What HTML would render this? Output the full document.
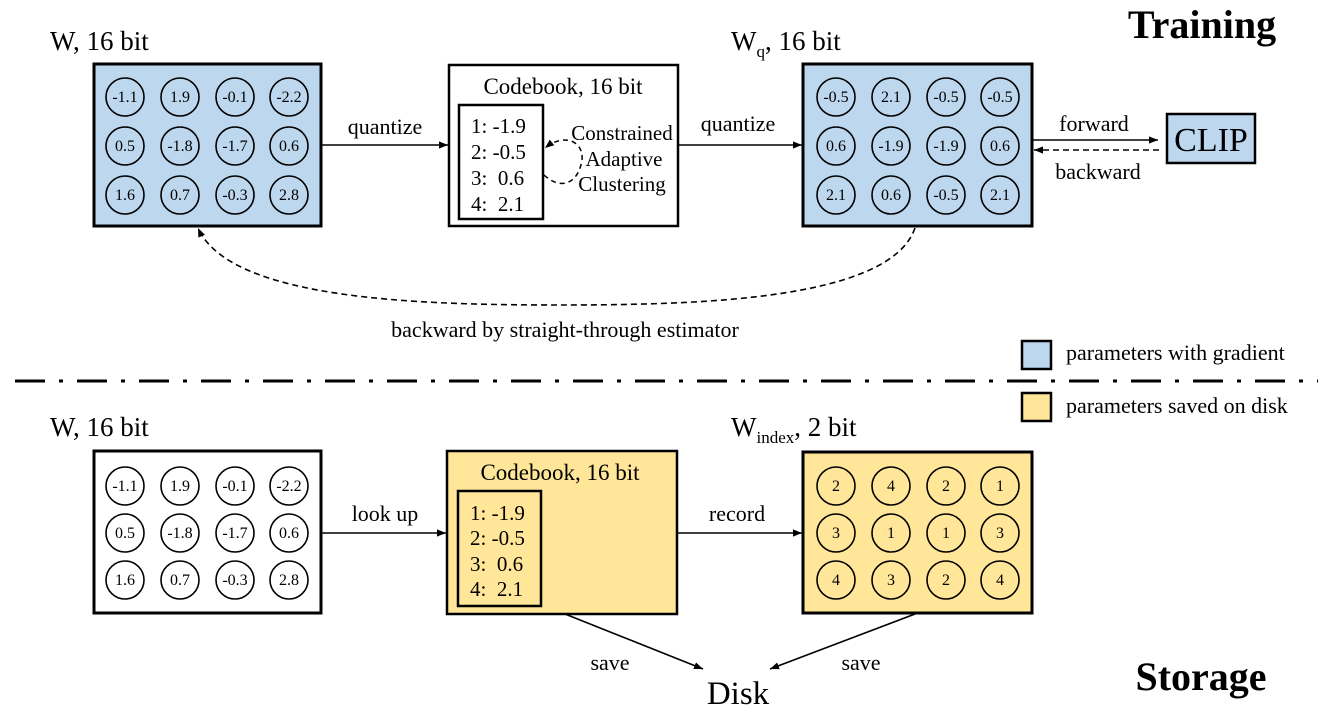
<!DOCTYPE html>
<html><head><meta charset="utf-8"><style>
html,body{margin:0;padding:0;background:#fff}
svg{display:block;font-family:"Liberation Serif",serif}
text{white-space:pre}
</style></head><body>
<svg width="1328" height="726" viewBox="0 0 1328 726" xmlns="http://www.w3.org/2000/svg" xml:space="preserve">
<defs>
<marker id="a" viewBox="0 0 10 10" refX="10" refY="5" markerWidth="9" markerHeight="9" markerUnits="userSpaceOnUse" orient="auto"><path d="M0,1 L10,5 L0,9 Z" fill="#000"/></marker>
</defs>
<text x="50" y="50" font-size="27">W, 16 bit</text>
<text x="731" y="50" font-size="27">W<tspan font-size="17" dy="7">q</tspan><tspan dy="-7">, 16 bit</tspan></text>
<text x="1202" y="38" font-size="40" font-weight="bold" text-anchor="middle">Training</text>
<text x="1201" y="690" font-size="40" font-weight="bold" text-anchor="middle">Storage</text>
<text x="50" y="436" font-size="27">W, 16 bit</text>
<text x="731" y="436" font-size="27">W<tspan font-size="17" dy="7">index</tspan><tspan dy="-7">, 2 bit</tspan></text>

<rect x="94" y="64" width="227" height="162" fill="#bdd7ee" stroke="#000" stroke-width="3"/>
<g fill="none" stroke="#000" stroke-width="1.6">
<circle cx="125" cy="97" r="19"/><circle cx="180" cy="97" r="19"/><circle cx="235" cy="97" r="19"/><circle cx="289" cy="97" r="19"/>
<circle cx="125" cy="146" r="19"/><circle cx="180" cy="146" r="19"/><circle cx="235" cy="146" r="19"/><circle cx="289" cy="146" r="19"/>
<circle cx="125" cy="195" r="19"/><circle cx="180" cy="195" r="19"/><circle cx="235" cy="195" r="19"/><circle cx="289" cy="195" r="19"/>
</g>
<g font-size="16" text-anchor="middle">
<text x="125" y="102">-1.1</text><text x="180" y="102">1.9</text><text x="235" y="102">-0.1</text><text x="289" y="102">-2.2</text>
<text x="125" y="151">0.5</text><text x="180" y="151">-1.8</text><text x="235" y="151">-1.7</text><text x="289" y="151">0.6</text>
<text x="125" y="200">1.6</text><text x="180" y="200">0.7</text><text x="235" y="200">-0.3</text><text x="289" y="200">2.8</text>
</g>

<rect x="449" y="65" width="229" height="161" fill="#fff" stroke="#000" stroke-width="2.5"/>
<text x="563" y="94" font-size="23" text-anchor="middle">Codebook, 16 bit</text>
<rect x="459" y="105" width="84" height="114" fill="none" stroke="#000" stroke-width="2.5"/>
<g font-size="21"><text x="471" y="133">1: -1.9</text><text x="471" y="159">2: -0.5</text><text x="471" y="185">3:  0.6</text><text x="471" y="211">4:  2.1</text></g>
<path d="M544,175 C560,190 578,185 582,160 C584,142 565,132 545,148" fill="none" stroke="#000" stroke-width="1.5" stroke-dasharray="5,4" marker-end="url(#a)"/>
<g font-size="21" text-anchor="middle"><text x="622" y="140">Constrained</text><text x="624" y="166">Adaptive</text><text x="622" y="191">Clustering</text></g>

<rect x="803" y="64" width="229" height="162" fill="#bdd7ee" stroke="#000" stroke-width="3"/>
<g fill="none" stroke="#000" stroke-width="1.6">
<circle cx="836" cy="97" r="19"/><circle cx="891" cy="97" r="19"/><circle cx="946" cy="97" r="19"/><circle cx="1000" cy="97" r="19"/>
<circle cx="836" cy="146" r="19"/><circle cx="891" cy="146" r="19"/><circle cx="946" cy="146" r="19"/><circle cx="1000" cy="146" r="19"/>
<circle cx="836" cy="195" r="19"/><circle cx="891" cy="195" r="19"/><circle cx="946" cy="195" r="19"/><circle cx="1000" cy="195" r="19"/>
</g>
<g font-size="16" text-anchor="middle">
<text x="836" y="102">-0.5</text><text x="891" y="102">2.1</text><text x="946" y="102">-0.5</text><text x="1000" y="102">-0.5</text>
<text x="836" y="151">0.6</text><text x="891" y="151">-1.9</text><text x="946" y="151">-1.9</text><text x="1000" y="151">0.6</text>
<text x="836" y="200">2.1</text><text x="891" y="200">0.6</text><text x="946" y="200">-0.5</text><text x="1000" y="200">2.1</text>
</g>

<rect x="1167" y="114" width="88" height="49" fill="#bdd7ee" stroke="#000" stroke-width="2.5"/>
<text x="1211" y="151" font-size="34" text-anchor="middle">CLIP</text>

<g stroke="#000" stroke-width="1.6" fill="none">
<line x1="321" y1="145" x2="448" y2="145" marker-end="url(#a)"/>
<line x1="678" y1="145" x2="802" y2="145" marker-end="url(#a)"/>
<line x1="1033" y1="140" x2="1158" y2="140" marker-end="url(#a)"/>
<line x1="1159" y1="150" x2="1034" y2="150" stroke-dasharray="6,4" marker-end="url(#a)"/>
<path d="M915,228 C890,300 700,305 560,305 C420,305 230,300 198,228" stroke-dasharray="6,4" marker-end="url(#a)"/>
</g>
<g font-size="22" text-anchor="middle">
<text x="385" y="134">quantize</text><text x="738" y="131">quantize</text>
<text x="1094" y="131">forward</text><text x="1098" y="179">backward</text>
<text x="565" y="337">backward by straight-through estimator</text>
</g>

<line x1="15" y1="381" x2="1318" y2="381" stroke="#000" stroke-width="3" stroke-dasharray="30,14,4,14"/>

<rect x="1022" y="341" width="29" height="28" fill="#bdd7ee" stroke="#000" stroke-width="2.5"/>
<text x="1066" y="360" font-size="22">parameters with gradient</text>
<rect x="1022" y="393" width="29" height="28" fill="#ffe699" stroke="#000" stroke-width="2.5"/>
<text x="1066" y="413" font-size="22">parameters saved on disk</text>

<rect x="94" y="451" width="227" height="162" fill="#fff" stroke="#000" stroke-width="3"/>
<g fill="none" stroke="#000" stroke-width="1.6">
<circle cx="125" cy="486" r="19"/><circle cx="180" cy="486" r="19"/><circle cx="235" cy="486" r="19"/><circle cx="289" cy="486" r="19"/>
<circle cx="125" cy="533" r="19"/><circle cx="180" cy="533" r="19"/><circle cx="235" cy="533" r="19"/><circle cx="289" cy="533" r="19"/>
<circle cx="125" cy="580" r="19"/><circle cx="180" cy="580" r="19"/><circle cx="235" cy="580" r="19"/><circle cx="289" cy="580" r="19"/>
</g>
<g font-size="16" text-anchor="middle">
<text x="125" y="491">-1.1</text><text x="180" y="491">1.9</text><text x="235" y="491">-0.1</text><text x="289" y="491">-2.2</text>
<text x="125" y="538">0.5</text><text x="180" y="538">-1.8</text><text x="235" y="538">-1.7</text><text x="289" y="538">0.6</text>
<text x="125" y="585">1.6</text><text x="180" y="585">0.7</text><text x="235" y="585">-0.3</text><text x="289" y="585">2.8</text>
</g>

<rect x="447" y="451" width="230" height="163" fill="#ffe699" stroke="#000" stroke-width="2.5"/>
<text x="560" y="480" font-size="23" text-anchor="middle">Codebook, 16 bit</text>
<rect x="458" y="491" width="83" height="115" fill="none" stroke="#000" stroke-width="2.5"/>
<g font-size="21"><text x="470" y="520">1: -1.9</text><text x="470" y="545">2: -0.5</text><text x="470" y="571">3:  0.6</text><text x="470" y="596">4:  2.1</text></g>

<rect x="803" y="452" width="229" height="161" fill="#ffe699" stroke="#000" stroke-width="3"/>
<g fill="none" stroke="#000" stroke-width="1.6">
<circle cx="836" cy="486" r="19"/><circle cx="891" cy="486" r="19"/><circle cx="946" cy="486" r="19"/><circle cx="1000" cy="486" r="19"/>
<circle cx="836" cy="533" r="19"/><circle cx="891" cy="533" r="19"/><circle cx="946" cy="533" r="19"/><circle cx="1000" cy="533" r="19"/>
<circle cx="836" cy="580" r="19"/><circle cx="891" cy="580" r="19"/><circle cx="946" cy="580" r="19"/><circle cx="1000" cy="580" r="19"/>
</g>
<g font-size="16" text-anchor="middle">
<text x="836" y="491">2</text><text x="891" y="491">4</text><text x="946" y="491">2</text><text x="1000" y="491">1</text>
<text x="836" y="538">3</text><text x="891" y="538">1</text><text x="946" y="538">1</text><text x="1000" y="538">3</text>
<text x="836" y="585">4</text><text x="891" y="585">3</text><text x="946" y="585">2</text><text x="1000" y="585">4</text>
</g>

<g stroke="#000" stroke-width="1.6" fill="none">
<line x1="321" y1="533" x2="446" y2="533" marker-end="url(#a)"/>
<line x1="677" y1="533" x2="802" y2="533" marker-end="url(#a)"/>
<line x1="565" y1="614" x2="703" y2="669" marker-end="url(#a)"/>
<line x1="915" y1="614" x2="770" y2="669" marker-end="url(#a)"/>
</g>
<g font-size="22" text-anchor="middle">
<text x="385" y="521">look up</text><text x="737" y="521">record</text>
<text x="610" y="670">save</text><text x="861" y="670">save</text>
</g>
<text x="738" y="704" font-size="33" text-anchor="middle">Disk</text>
</svg>
</body></html>
